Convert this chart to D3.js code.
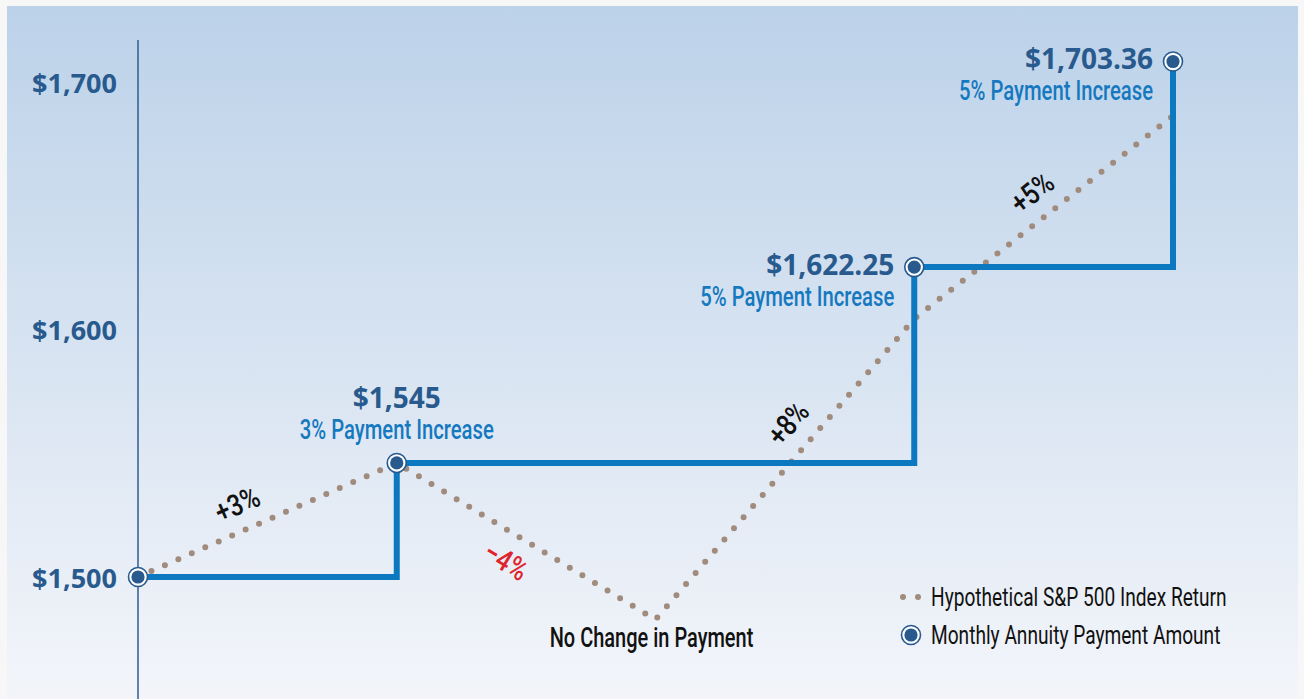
<!DOCTYPE html>
<html>
<head>
<meta charset="utf-8">
<script src="https://cdn.jsdelivr.net/npm/d3@7"></script>
<style>
  html, body { margin: 0; padding: 0; background: #f7f7f7; }
  svg { display: block; }
  .num { font-family: 'Open Sans', 'DejaVu Sans', sans-serif; font-weight: 700; fill: #285a8e; }
  .cond { font-family: Roboto, 'Open Sans', sans-serif; }
</style>
</head>
<body>
<script>
// chart data
const steps = [0, 1, 2, 3, 4];
const paymentValues = [1500, 1545, 1545, 1622.25, 1703.36];
const indexValues = [1500, 1545, 1483.2, 1601.86, 1681.95];
const indexReturns = ['+3%', '\u22124%', '+8%', '+5%'];
const tickValues = [1500, 1600, 1700];
const tickLabels = ['$1,500', '$1,600', '$1,700'];
const paymentLabels = ['$1,500', '$1,545', '$1,545', '$1,622.25', '$1,703.36'];
const paymentNotes = ['', '3% Payment Increase', '', '5% Payment Increase', '5% Payment Increase'];
const legendLabels = ['Hypothetical S&P 500 Index Return', 'Monthly Annuity Payment Amount'];

const width = 1304, height = 699;
const squeeze = 0.75; // no condensed face installed, so narrow the text by hand

const svg = d3.select('body')
	.append('svg')
	.attr('width', width)
	.attr('height', height);

// background panel with vertical gradient
const grad = svg.append('defs').append('linearGradient')
	.attr('id', 'bg')
	.attr('x1', 0).attr('y1', 0).attr('x2', 0).attr('y2', 1);
grad.append('stop').attr('offset', 0).attr('stop-color', '#bcd2e9');
grad.append('stop').attr('offset', 1).attr('stop-color', '#f3f5fa');

svg.append('rect')
	.attr('x', 7).attr('y', 6)
	.attr('width', 1291).attr('height', height - 6)
	.attr('fill', 'url(#bg)');

// scales
const x = d3.scaleLinear()
	.domain([0, 4])
	.range([138, 1173]);

const y = d3.scaleLinear()
	.domain([1500, 1700])
	.range([577, 70]);

// the printed axis labels sit on their own evenly spaced scale
const yLabel = d3.scaleLinear()
	.domain([1500, 1700])
	.range([578, 83]);

// condensed text helper
function condText(parent, tx, ty, str, opts) {
	const rot = opts.rotate || 0;
	return parent.append('text')
		.attr('class', 'cond')
		.attr('transform', `translate(${tx},${ty}) rotate(${rot}) scale(${opts.sx || squeeze},1)`)
		.attr('text-anchor', opts.anchor || 'start')
		.attr('dy', opts.dy || null)
		.attr('font-size', opts.size)
		.attr('font-weight', opts.weight || 500)
		.attr('fill', opts.color)
		.text(str);
}

// y axis line
svg.append('line')
	.attr('x1', x(0)).attr('x2', x(0))
	.attr('y1', 40).attr('y2', height)
	.attr('stroke', '#2f5d92')
	.attr('stroke-width', 1.5);

svg.selectAll('text.tick')
	.data(tickValues)
	.enter()
	.append('text')
	.attr('class', 'tick num')
	.attr('x', 117)
	.attr('y', d => yLabel(d))
	.attr('dy', '0.36em')
	.attr('text-anchor', 'end')
	.attr('font-size', 27)
	.text((d, i) => tickLabels[i]);

// S&P index dotted line
svg.append('path')
	.datum(steps)
	.attr('d', d3.line().x(i => x(i)).y(i => y(indexValues[i])))
	.attr('fill', 'none')
	.attr('stroke', '#a08b7d')
	.attr('stroke-width', 6)
	.attr('stroke-linecap', 'round')
	.attr('stroke-dasharray', '0 14.7');

// payment step line
svg.append('path')
	.datum(steps)
	.attr('d', d3.line().x(i => x(i)).y(i => y(paymentValues[i])).curve(d3.curveStepAfter))
	.attr('fill', 'none')
	.attr('stroke', '#0b78bf')
	.attr('stroke-width', 6);

// return labels along the index segments
const returnPos = [
	{ t: 0.425, off: 27, color: '#111' },
	{ t: 0.477, off: -27, color: '#e0232c' },
	{ t: 0.593, off: 28, color: '#111' },
	{ t: 0.519, off: 27, color: '#111' }
];
indexReturns.forEach((label, i) => {
	const x0 = x(i), y0 = y(indexValues[i]);
	const x1 = x(i + 1), y1 = y(indexValues[i + 1]);
	const dx = x1 - x0, dy = y1 - y0;
	const len = Math.hypot(dx, dy);
	const p = returnPos[i];
	const cx = x0 + dx * p.t + (dy / len) * p.off;
	const cy = y0 + dy * p.t - (dx / len) * p.off;
	const angle = Math.atan2(dy, dx) * 180 / Math.PI;
	condText(svg, cx, cy, label, {
		rotate: angle, anchor: 'middle', dy: '0.36em',
		size: 30, color: p.color, sx: 0.82
	});
});

// payment markers where the payment changes
const changed = steps.filter(i => i === 0 || paymentValues[i] !== paymentValues[i - 1]);

const marker = (g, cx, cy) => {
	g.append('circle')
		.attr('cx', cx).attr('cy', cy).attr('r', 9.5)
		.attr('fill', '#fff')
		.attr('stroke', '#285a8e')
		.attr('stroke-width', 1.6);
	g.append('circle')
		.attr('cx', cx).attr('cy', cy).attr('r', 6.6)
		.attr('fill', '#285a8e');
};
changed.forEach(i => marker(svg, x(i), y(paymentValues[i])));

// payment value annotations
changed.filter(i => i > 0).forEach(i => {
	const px = x(i), py = y(paymentValues[i]);
	const first = i === 1;
	const ax = first ? px : px - 20;
	const anchor = first ? 'middle' : 'end';
	const by = first ? py - 55 : py + 8;
	svg.append('text')
		.attr('class', 'num')
		.attr('x', ax).attr('y', by)
		.attr('text-anchor', anchor)
		.attr('font-size', 28)
		.text(paymentLabels[i]);
	condText(svg, ax, by + 31, paymentNotes[i], {
		anchor: anchor, size: 27, color: '#1679bf'
	});
});

// no change note under the index low point
condText(svg, x(2) - 4, y(indexValues[2]) + 27, 'No Change in Payment', {
	anchor: 'middle', size: 27, color: '#111', sx: 0.74
});

// legend
const legend = svg.append('g').attr('transform', 'translate(903, 597)');
legend.selectAll('circle.dot')
	.data([0, 15])
	.enter()
	.append('circle')
	.attr('class', 'dot')
	.attr('cx', d => d).attr('cy', 0).attr('r', 3)
	.attr('fill', '#a08b7d');
marker(legend, 8, 38);
legendLabels.forEach((d, i) => {
	condText(legend, 28, i * 38, d, {
		dy: '0.36em', size: 25, weight: 400, color: '#111', sx: 0.765
	});
});
</script>
</body>
</html>
